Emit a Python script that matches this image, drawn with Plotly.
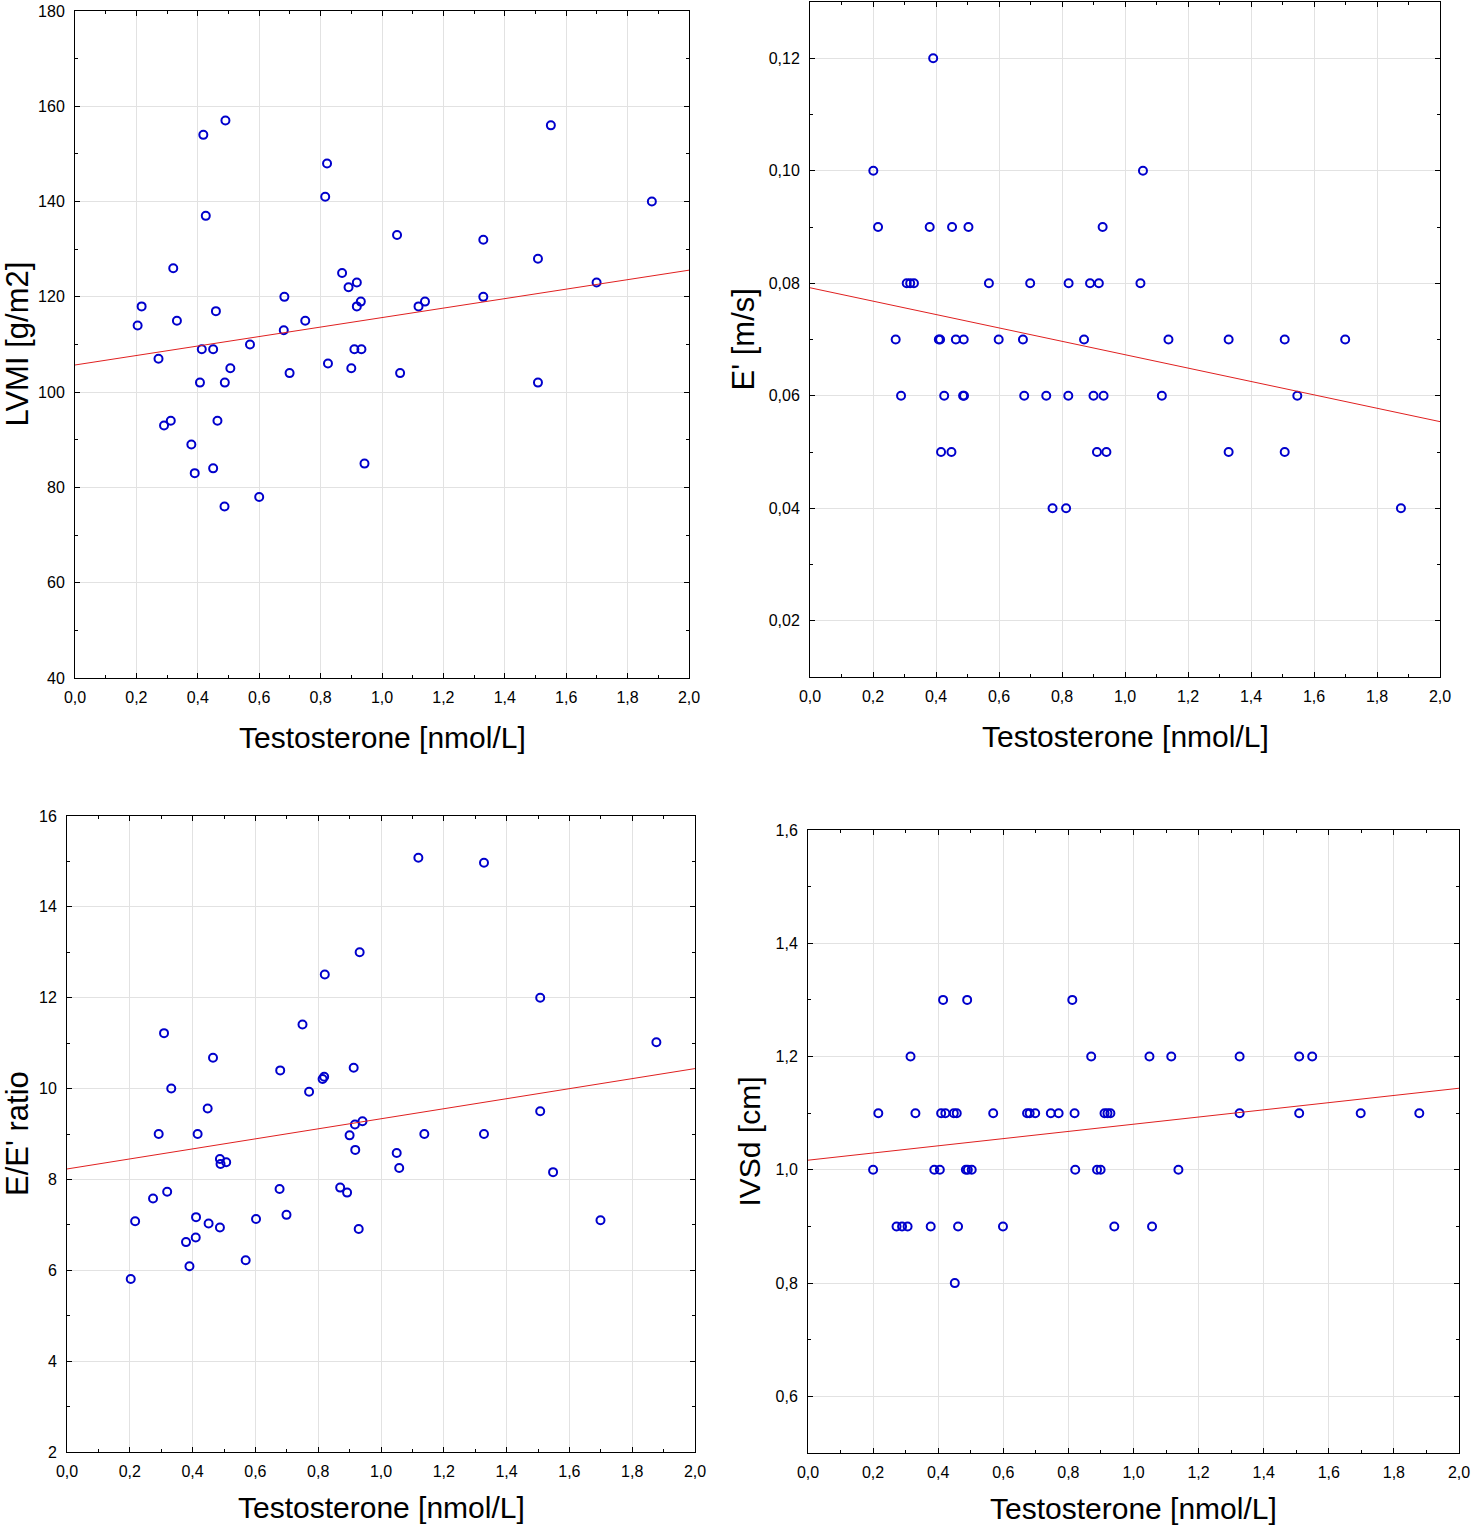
import plotly.graph_objects as go

# testosterone vs. echo parameters

# LVMI panel
t_lvmi = [0.418, 0.490, 1.550, 0.821, 0.815, 1.879, 0.426, 1.049, 1.330, 1.508,
          0.320, 0.870, 1.699, 0.891, 0.918, 0.682, 1.330, 0.217, 0.918, 0.931,
          1.119, 1.140, 0.459, 0.204, 0.332, 0.750, 0.680, 0.570, 0.413, 0.450,
          0.910, 0.933, 0.272, 0.506, 0.699, 0.824, 0.900, 1.059, 0.407, 0.488,
          1.508, 0.290, 0.312, 0.464, 0.379, 0.390, 0.450, 0.943, 0.600, 0.487]
lvmi = [154, 157, 156, 148, 141, 140, 137, 133, 132, 128,
        126, 125, 123, 122, 123, 120, 120, 118, 118, 119,
        118, 119, 117, 114, 115, 115, 113, 110, 109, 109,
        109, 109, 107, 105, 104, 106, 105, 104, 102, 102,
        102, 93, 94, 94, 89, 83, 84, 85, 78, 76]

# E' panel
t_e = [0.391, 0.201, 1.057, 0.216, 0.380, 0.451, 0.503, 0.929,
       0.307, 0.318, 0.330, 0.568, 0.699, 0.821, 0.889, 0.917, 1.049,
       0.272, 0.409, 0.413, 0.463, 0.488, 0.599, 0.676, 0.870, 1.138, 1.329, 1.507, 1.699,
       0.289, 0.426, 0.486, 0.489, 0.680, 0.750, 0.820, 0.900, 0.932, 1.117, 1.547,
       0.416, 0.449, 0.911, 0.941, 1.329, 1.507,
       0.770, 0.813, 1.876]
e_prime = [0.12, 0.10, 0.10, 0.09, 0.09, 0.09, 0.09, 0.09,
           0.08, 0.08, 0.08, 0.08, 0.08, 0.08, 0.08, 0.08, 0.08,
           0.07, 0.07, 0.07, 0.07, 0.07, 0.07, 0.07, 0.07, 0.07, 0.07, 0.07, 0.07,
           0.06, 0.06, 0.06, 0.06, 0.06, 0.06, 0.06, 0.06, 0.06, 0.06, 0.06,
           0.05, 0.05, 0.05, 0.05, 0.05, 0.05,
           0.04, 0.04, 0.04]

# E/E' panel
t_ee = [1.119, 1.328, 0.932, 0.821, 1.507, 0.750, 0.309, 1.877, 0.465, 0.679,
        0.913, 0.814, 0.819, 0.332, 0.771, 0.448, 1.507, 0.941, 0.917, 0.292,
        0.416, 0.900, 1.138, 1.328, 0.918, 1.050, 0.487, 0.507, 0.489, 1.058,
        1.548, 0.677, 0.870, 0.892, 0.319, 0.274, 0.217, 0.411, 0.451, 0.487,
        0.602, 0.699, 0.929, 1.699, 0.379, 0.410, 0.390, 0.569, 0.203]
ee_ratio = [15.08, 14.97, 13.0, 12.51, 12.0, 11.41, 11.22, 11.02, 10.68, 10.40,
            10.46, 10.21, 10.26, 10.0, 9.93, 9.56, 9.50, 9.28, 9.21, 9.0,
            9.0, 8.97, 9.0, 9.0, 8.65, 8.58, 8.45, 8.38, 8.34, 8.25,
            8.16, 7.79, 7.82, 7.71, 7.73, 7.58, 7.08, 7.17, 7.03, 6.94,
            7.13, 7.22, 6.91, 7.10, 6.62, 6.72, 6.09, 6.22, 5.81]

# IVSd panel
t_ivs = [0.415, 0.489, 0.812,
         0.315, 0.870, 1.049, 1.116, 1.326, 1.509, 1.549,
         0.216, 0.330, 0.409, 0.422, 0.448, 0.457, 0.569, 0.673, 0.681, 0.698,
         0.746, 0.770, 0.819, 0.911, 0.920, 0.929, 1.326, 1.509, 1.698, 1.878,
         0.200, 0.388, 0.405, 0.485, 0.491, 0.503, 0.821, 0.888, 0.899, 1.138,
         0.272, 0.289, 0.306, 0.377, 0.461, 0.599, 0.941, 1.057,
         0.451]
ivsd = [1.3, 1.3, 1.3,
        1.2, 1.2, 1.2, 1.2, 1.2, 1.2, 1.2,
        1.1, 1.1, 1.1, 1.1, 1.1, 1.1, 1.1, 1.1, 1.1, 1.1,
        1.1, 1.1, 1.1, 1.1, 1.1, 1.1, 1.1, 1.1, 1.1, 1.1,
        1.0, 1.0, 1.0, 1.0, 1.0, 1.0, 1.0, 1.0, 1.0, 1.0,
        0.9, 0.9, 0.9, 0.9, 0.9, 0.9, 0.9, 0.9,
        0.8]

# regression lines as drawn in the source (value at x=0 and x=2)
fit_x = [0.0, 2.0]
fit_lvmi = [105.7, 125.6]
fit_e = [0.0792, 0.0554]
fit_ee = [8.23, 10.44]
fit_ivsd = [1.017, 1.144]

x_title = "Testosterone [nmol/L]"

W, H = 1473, 1529
FONT = "Liberation Sans, Arial, sans-serif"

# panel boxes in pixels: left, right, top, bottom
panels = [
    dict(x=t_lvmi, y=lvmi, fit=fit_lvmi, ytitle="LVMI [g/m2]", yrange=[40, 180],
         dtick=20, fmt="d", box=(75, 689, 11, 678), ytitle_x=17, tsize=31, xt_off=59),
    dict(x=t_e, y=e_prime, fit=fit_e, ytitle="E' [m/s]", yrange=[0.01, 0.13],
         dtick=0.02, fmt=".2f", box=(810, 1440, 2, 677), ytitle_x=743, tick0=0.02,
         tsize=31, xt_off=59),
    dict(x=t_ee, y=ee_ratio, fit=fit_ee, ytitle="E/E' ratio", yrange=[2, 16],
         dtick=2, fmt="d", box=(67, 695, 816, 1452), ytitle_x=17, tsize=31, xt_off=55),
    dict(x=t_ivs, y=ivsd, fit=fit_ivsd, ytitle="IVSd [cm]", yrange=[0.5, 1.6],
         dtick=0.2, fmt=".1f", box=(808, 1459, 830, 1453), ytitle_x=749, tick0=0.6,
         tsize=30, xt_off=55),
]

fig = go.Figure()
annotations = []

for i, p in enumerate(panels, start=1):
    sfx = "" if i == 1 else str(i)
    left, right, top, bottom = p["box"]
    xdom = [left / W, right / W]
    ydom = [1 - bottom / H, 1 - top / H]

    fig.add_trace(go.Scatter(
        x=p["x"], y=p["y"], mode="markers",
        marker=dict(symbol="circle-open", size=8, color="#0000cc", line=dict(width=2)),
        xaxis="x" + sfx, yaxis="y" + sfx, showlegend=False, hoverinfo="x+y"))

    fig.add_trace(go.Scatter(
        x=fit_x, y=p["fit"], mode="lines",
        line=dict(color="#e02020", width=1),
        xaxis="x" + sfx, yaxis="y" + sfx, showlegend=False, hoverinfo="skip"))

    common = dict(showline=True, linecolor="black", linewidth=1, mirror="ticks",
                  ticks="inside", ticklen=5, tickcolor="black", tickwidth=1,
                  showgrid=True, gridcolor="#e2e2e2", gridwidth=1, zeroline=False,
                  automargin=False,
                  tickfont=dict(family=FONT, size=16, color="black"))
    fig.layout["xaxis" + sfx] = dict(
        common, domain=xdom, range=[0, 2], dtick=0.2, tick0=0, tickformat=".1f",
        anchor="y" + sfx, ticklabelstandoff=5,
        minor=dict(dtick=0.1, ticks="inside", ticklen=3, tickcolor="black", showgrid=False))
    fig.layout["yaxis" + sfx] = dict(
        common, domain=ydom, range=p["yrange"], dtick=p["dtick"],
        tick0=p.get("tick0", p["yrange"][0]), tickformat=p["fmt"],
        anchor="x" + sfx, ticklabelstandoff=6,
        minor=dict(dtick=p["dtick"] / 2, ticks="inside", ticklen=3, tickcolor="black",
                   showgrid=False))

    # axis titles
    annotations.append(dict(
        text=x_title, xref="paper", yref="paper",
        x=(left + right) / 2 / W, y=1 - (bottom + p["xt_off"]) / H,
        xanchor="center", yanchor="middle", showarrow=False,
        font=dict(family=FONT, size=30, color="black")))
    annotations.append(dict(
        text=p["ytitle"], xref="paper", yref="paper",
        x=p["ytitle_x"] / W, y=1 - (top + bottom) / 2 / H, textangle=-90,
        xanchor="center", yanchor="middle", showarrow=False,
        font=dict(family=FONT, size=p["tsize"], color="black")))

fig.update_layout(
    width=W, height=H,
    margin=dict(l=0, r=0, t=0, b=0),
    paper_bgcolor="white", plot_bgcolor="white",
    separators=", ",
    annotations=annotations,
)

# the page is exactly figure sized, so drop the browser's default body margin
fig.write_html("out.html", config={"displayModeBar": False},
               post_script="document.body.style.margin = '0';")
